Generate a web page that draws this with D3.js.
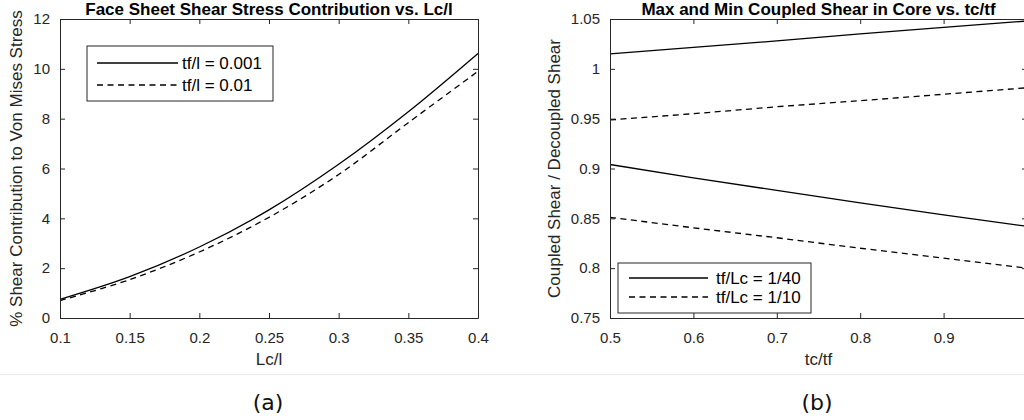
<!DOCTYPE html>
<html>
<head>
<meta charset="utf-8">
<script src="https://cdn.jsdelivr.net/npm/d3@7"></script>
<style>
  body { margin: 0; background: #fff; }
  svg { display: block; font-family: "Liberation Sans", Arial, sans-serif; }
</style>
</head>
<body>
<svg width="1024" height="420"></svg>
<script>
// panel (a): Lc/l vs % shear contribution
const lcRatio = [0.1, 0.15, 0.2, 0.25, 0.3, 0.35, 0.4];
const shearTf001 = [0.75, 1.66, 2.85, 4.34, 6.17, 8.28, 10.62];
const shearTf01 = [0.7, 1.54, 2.65, 4.04, 5.76, 7.84, 9.9];
const ticksA = [0.1, 0.15, 0.2, 0.25, 0.3, 0.35, 0.4];
const yTicksA = [0, 2, 4, 6, 8, 10, 12];

// panel (b): tc/tf vs coupled/decoupled shear
const tcRatio = [0.5, 0.6, 0.7, 0.8, 0.9, 1.0];
const maxLc40 = [1.015, 1.0215, 1.028, 1.035, 1.0415, 1.048];
const maxLc10 = [0.9487, 0.955, 0.962, 0.968, 0.9745, 0.981];
const minLc40 = [0.904, 0.8905, 0.878, 0.8655, 0.8535, 0.842];
const minLc10 = [0.851, 0.8405, 0.8305, 0.82, 0.81, 0.8];
const ticksB = [0.5, 0.6, 0.7, 0.8, 0.9]; // 1 sits just past the right edge
const yTicksB = [0.75, 0.8, 0.85, 0.9, 0.95, 1, 1.05];

const svg = d3.select("svg");
const axisColor = "#262626";

function panel(cfg) {
  const x = d3.scaleLinear().domain(cfg.xDomain).range(cfg.xRange);
  const y = d3.scaleLinear().domain(cfg.yDomain).range([318, 19]);
  const g = svg.append("g");

  const line = d3.line().x(d => x(d[0])).y(d => y(d[1]))
    .curve(cfg.smooth ? d3.curveCatmullRom : d3.curveLinear);

  cfg.series.forEach(s => {
    g.append("path")
      .datum(cfg.xs.map((v, i) => [v, s.values[i]]))
      .attr("d", line)
      .attr("fill", "none")
      .attr("stroke", "#000")
      .attr("stroke-width", 1.3)
      .attr("stroke-dasharray", s.dash ? "6,4.5" : null);
  });

  const fmt = d => String(d);
  const tick = 5;

  // bottom
  g.append("g").attr("transform", `translate(0,${y.range()[0]})`)
    .call(d3.axisBottom(x).tickValues(cfg.xTicks).tickFormat(fmt).tickSizeInner(-tick).tickSizeOuter(0).tickPadding(14));
  // left
  g.append("g").attr("transform", `translate(${x.range()[0]},0)`)
    .call(d3.axisLeft(y).tickValues(cfg.yTicks).tickFormat(fmt).tickSizeInner(-tick).tickSizeOuter(0).tickPadding(10));
  // top
  g.append("g").attr("transform", `translate(0,${y.range()[1]})`)
    .call(d3.axisTop(x).tickValues(cfg.xTicks).tickFormat("").tickSizeInner(-tick).tickSizeOuter(0));
  // right
  g.append("g").attr("transform", `translate(${x.range()[1]},0)`)
    .call(d3.axisRight(y).tickValues(cfg.yTicks).tickFormat("").tickSizeInner(-tick).tickSizeOuter(0));

  g.selectAll(".domain, .tick line").attr("stroke", axisColor).attr("stroke-width", 1);
  g.selectAll(".tick text").attr("fill", axisColor).style("font-size", "15px")
    .style("font-family", "'Liberation Sans', Arial, sans-serif");

  const cx = (x.range()[0] + x.range()[1]) / 2;
  const cy = (y.range()[0] + y.range()[1]) / 2;

  g.append("text")
    .attr("x", cx).attr("y", 15)
    .attr("text-anchor", "middle")
    .attr("font-weight", "bold")
    .attr("font-size", 17)
    .attr("fill", "#000")
    .text(cfg.title);

  g.append("text")
    .attr("x", cx).attr("y", 365)
    .attr("text-anchor", "middle")
    .attr("font-size", 17)
    .attr("fill", axisColor)
    .text(cfg.xLabel);

  g.append("text")
    .attr("transform", `translate(${cfg.yLabelX},${cy}) rotate(-90)`)
    .attr("text-anchor", "middle")
    .attr("font-size", 17)
    .attr("fill", axisColor)
    .text(cfg.yLabel);

  // legend
  const L = cfg.legend;
  const lg = g.append("g");
  lg.append("rect")
    .attr("x", L.x0).attr("y", L.y0)
    .attr("width", L.x1 - L.x0).attr("height", L.y1 - L.y0)
    .attr("fill", "#fff").attr("stroke", axisColor).attr("stroke-width", 1);
  L.items.forEach((it, i) => {
    const ry = L.rows[i];
    lg.append("line")
      .attr("x1", L.lx0).attr("x2", L.lx1).attr("y1", ry).attr("y2", ry)
      .attr("stroke", "#000").attr("stroke-width", 1.3)
      .attr("stroke-dasharray", it.dash ? "6,4.5" : null);
    lg.append("text")
      .attr("x", L.tx).attr("y", ry)
      .attr("dy", "0.35em")
      .attr("font-size", 17)
      .attr("fill", "#000")
      .text(it.label);
  });
}

panel({
  xDomain: [0.1, 0.4], xRange: [60, 478],
  yDomain: [0, 12],
  xs: lcRatio, smooth: true,
  series: [{ values: shearTf001, dash: false }, { values: shearTf01, dash: true }],
  xTicks: ticksA, yTicks: yTicksA,
  title: "Face Sheet Shear Stress Contribution vs. Lc/l",
  xLabel: "Lc/l",
  yLabel: "% Shear Contribution to Von Mises Stress",
  yLabelX: 22,
  legend: {
    x0: 87, x1: 273, y0: 46, y1: 101, rows: [63, 85],
    lx0: 97, lx1: 178, tx: 182,
    items: [{ label: "tf/l = 0.001", dash: false }, { label: "tf/l = 0.01", dash: true }]
  }
});

panel({
  xDomain: [0.5, 1.0], xRange: [610, 1027],
  yDomain: [0.75, 1.05],
  xs: tcRatio, smooth: false,
  series: [
    { values: maxLc40, dash: false }, { values: maxLc10, dash: true },
    { values: minLc40, dash: false }, { values: minLc10, dash: true }
  ],
  xTicks: ticksB, yTicks: yTicksB,
  title: "Max and Min Coupled Shear in Core vs. tc/tf",
  xLabel: "tc/tf",
  yLabel: "Coupled Shear / Decoupled Shear",
  yLabelX: 560,
  legend: {
    x0: 618, x1: 811, y0: 263, y1: 313, rows: [278, 297],
    lx0: 629, lx1: 708, tx: 716,
    items: [{ label: "tf/Lc = 1/40", dash: false }, { label: "tf/Lc = 1/10", dash: true }]
  }
});

// separator and sub-captions
svg.append("line")
  .attr("x1", 0).attr("x2", 1024).attr("y1", 374.5).attr("y2", 374.5)
  .attr("stroke", "#ebebeb").attr("stroke-width", 1);

svg.selectAll("text.caption")
  .data([{ t: "(a)", x: 268 }, { t: "(b)", x: 817 }])
  .join("text")
  .attr("class", "caption")
  .attr("x", d => d.x).attr("y", 410)
  .attr("text-anchor", "middle")
  .attr("font-family", "'DejaVu Sans', sans-serif")
  .attr("font-size", 22)
  .attr("fill", "#111")
  .text(d => d.t);
</script>
</body>
</html>
